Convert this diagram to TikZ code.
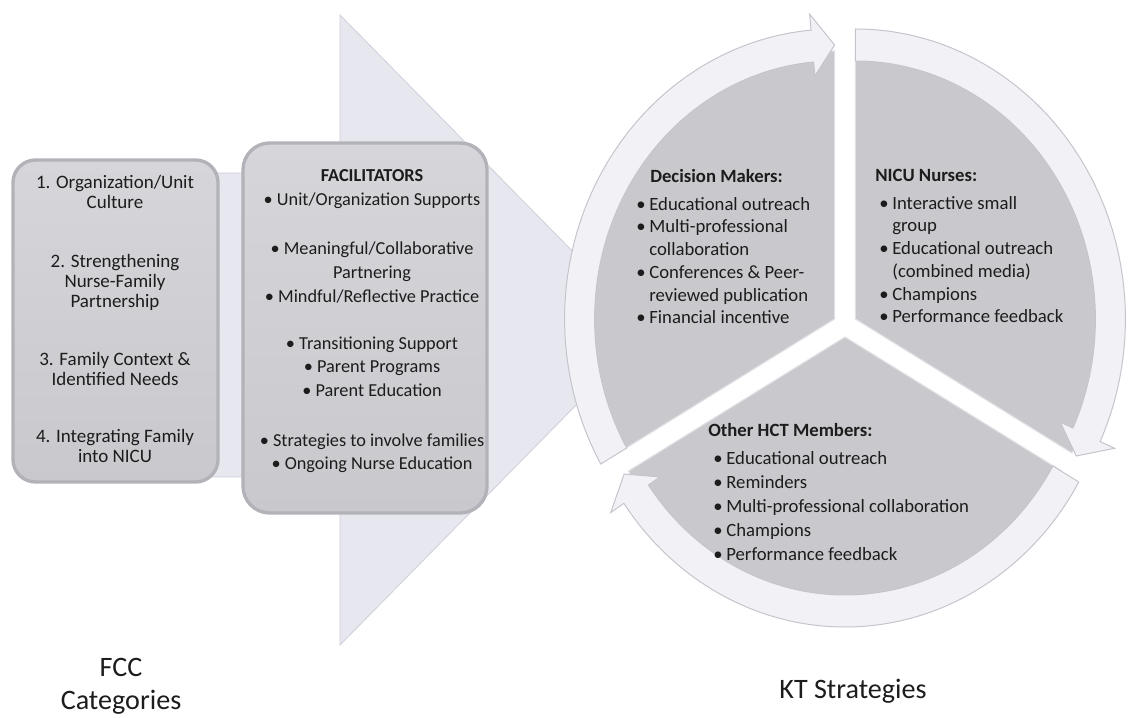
\documentclass[tikz,border=0pt]{standalone}
\usepackage{fontspec}
\setmainfont{Carlito}
\usetikzlibrary{positioning,calc}
\definecolor{arrowbg}{HTML}{E7E7EF}
\definecolor{arrowedge}{HTML}{D0D0DA}
\definecolor{boxtop}{HTML}{D6D6DA}
\definecolor{boxbot}{HTML}{C8C8CD}
\definecolor{boxedge}{HTML}{B2B2B8}
\definecolor{segfill}{HTML}{C9C9CD}
\definecolor{segedge}{HTML}{E2E2E6}
\definecolor{bandfill}{HTML}{F1F1F6}
\definecolor{bandedge}{HTML}{C4C4CD}
\definecolor{txt}{HTML}{1C1C1C}
\newcommand{\bu}{\makebox[0.7em][l]{\textbullet}}
\newcommand{\ind}{\hspace*{0.7em}}

\begin{document}
\begin{tikzpicture}[x=0.025cm, y=0.025cm,
	bigarrow/.style={fill=arrowbg, draw=arrowedge, line width=0.6pt},
	catbox/.style={rounded corners=16pt, draw=boxedge, line width=2.4pt, top color=boxtop, bottom color=boxbot},
	cattext/.style={font=\fontsize{13.5}{14.5}\selectfont, align=center, text=txt, inner sep=0pt},
	factext/.style={font=\fontsize{13}{17}\selectfont, align=center, text=txt, inner sep=0pt},
	seghead/.style={font=\fontsize{13.3}{16}\selectfont\bfseries, text=txt, inner sep=0pt},
	segtext/.style={font=\fontsize{13.3}{16.2}\selectfont, align=left, text=txt, inner sep=0pt},
	wedge/.style={fill=segfill, draw=segedge, line width=0.8pt},
	band/.style={fill=bandfill, draw=bandedge, line width=0.7pt},
	footlabel/.style={font=\fontsize{20}{23.4}\selectfont, align=center, text=txt, inner sep=0pt}]
			\useasboundingbox (0,0) rectangle (1137,717);
			
			% background process arrow
			\draw[bigarrow] (92,544) -- (340,544) -- (340,702) -- (650,387) -- (340,72) -- (340,240) -- (92,240) -- cycle;
			
			% boxes
			\draw[catbox] (13,557) rectangle (218,235);
			\draw[catbox, rounded corners=19pt] (243,574) rectangle (487,204);
			
			% base = last line of each node
			\node[cattext, anchor=base] (cat1) at (115,508.5) {1. Organization/Unit\\ Culture};
			\node[cattext, anchor=base] (cat2) at (115,409) {2. Strengthening\\ Nurse-Family\\ Partnership};
			\node[cattext, anchor=base] (cat3) at (115,331.5) {3. Family Context \&\\ Identified Needs};
			\node[cattext, anchor=base] (cat4) at (115,254.5) {4. Integrating Family\\ into NICU};
			
			\node[factext, anchor=base] (facil) at (372,247) {\textbf{FACILITATORS}\\ \textbullet\ Unit/Organization Supports\\[18pt]
				\textbullet\ Meaningful/Collaborative\\ Partnering\\ \textbullet\ Mindful/Reflective Practice\\[16pt]
				\textbullet\ Transitioning Support\\ \textbullet\ Parent Programs\\ \textbullet\ Parent Education\\[18pt]
				\textbullet\ Strategies to involve families\\ \textbullet\ Ongoing Nurse Education};
			
			% decision makers segment
			\begin{scope}[shift={(834.6,398)}]
			\draw[wedge] (0,0) -- (90:250 and 268) arc[start angle=90, end angle=210, x radius=250, y radius=268] -- cycle;
			\draw[band] (210:270 and 290) arc[start angle=210, end angle=95, x radius=270, y radius=290] -- (95:286 and 306) -- (90:255 and 274) -- (95:226 and 244) -- (95:240 and 258) arc[start angle=95, end angle=210, x radius=240, y radius=258] -- cycle;
			\end{scope}
			
			% nicu nurses segment
			\begin{scope}[shift={(855.4,398)}]
			\draw[wedge] (0,0) -- (90:250 and 268) arc[start angle=90, end angle=-30, x radius=250, y radius=268] -- cycle;
			\draw[band] (90:270 and 290) arc[start angle=90, end angle=-25, x radius=270, y radius=290] -- (-25:286 and 306) -- (-30:255 and 274) -- (-25:226 and 244) -- (-25:240 and 258) arc[start angle=-25, end angle=90, x radius=240, y radius=258] -- cycle;
			\end{scope}
			
			% other hct members segment
			\begin{scope}[shift={(845,380)}]
			\draw[wedge] (0,0) -- (-30:250 and 268) arc[start angle=-30, end angle=-150, x radius=250, y radius=268] -- cycle;
			\draw[band] (-30:270 and 290) arc[start angle=-30, end angle=-145, x radius=270, y radius=290] -- (-145:286 and 306) -- (-150:255 and 274) -- (-145:226 and 244) -- (-145:240 and 258) arc[start angle=-145, end angle=-30, x radius=240, y radius=258] -- cycle;
			\end{scope}
			
			\node[seghead, anchor=base west] (dmhead) at (650,534) {Decision Makers:};
			\node[segtext, anchor=base west] (dmlist) at (636,393) {\bu Educational outreach\\ \bu Multi-professional\\ \ind collaboration\\
				\bu Conferences \& Peer-\\ \ind reviewed publication\\ \bu Financial incentive};
			
			\node[seghead, anchor=base west] (nicuhead) at (875,535) {NICU Nurses:};
			\node[segtext, anchor=base west] (niculist) at (879,394) {\bu Interactive small\\ \ind group\\ \bu Educational outreach\\
				\ind (combined media)\\ \bu Champions\\ \bu Performance feedback};
			
			\node[seghead, anchor=base west] (hcthead) at (708,280) {Other HCT Members:};
			\node[segtext, font=\fontsize{13.3}{17.2}\selectfont, anchor=base west] (hctlist) at (713,156) {\bu Educational outreach\\ \bu Reminders\\
				\bu Multi-professional collaboration\\ \bu Champions\\ \bu Performance feedback};
			
			\node[footlabel, anchor=base] (fcc) at (121,8) {FCC\\ Categories};
			\node[footlabel, anchor=base] (kt) at (853,19) {KT Strategies};
		\end{tikzpicture}
\end{document}
